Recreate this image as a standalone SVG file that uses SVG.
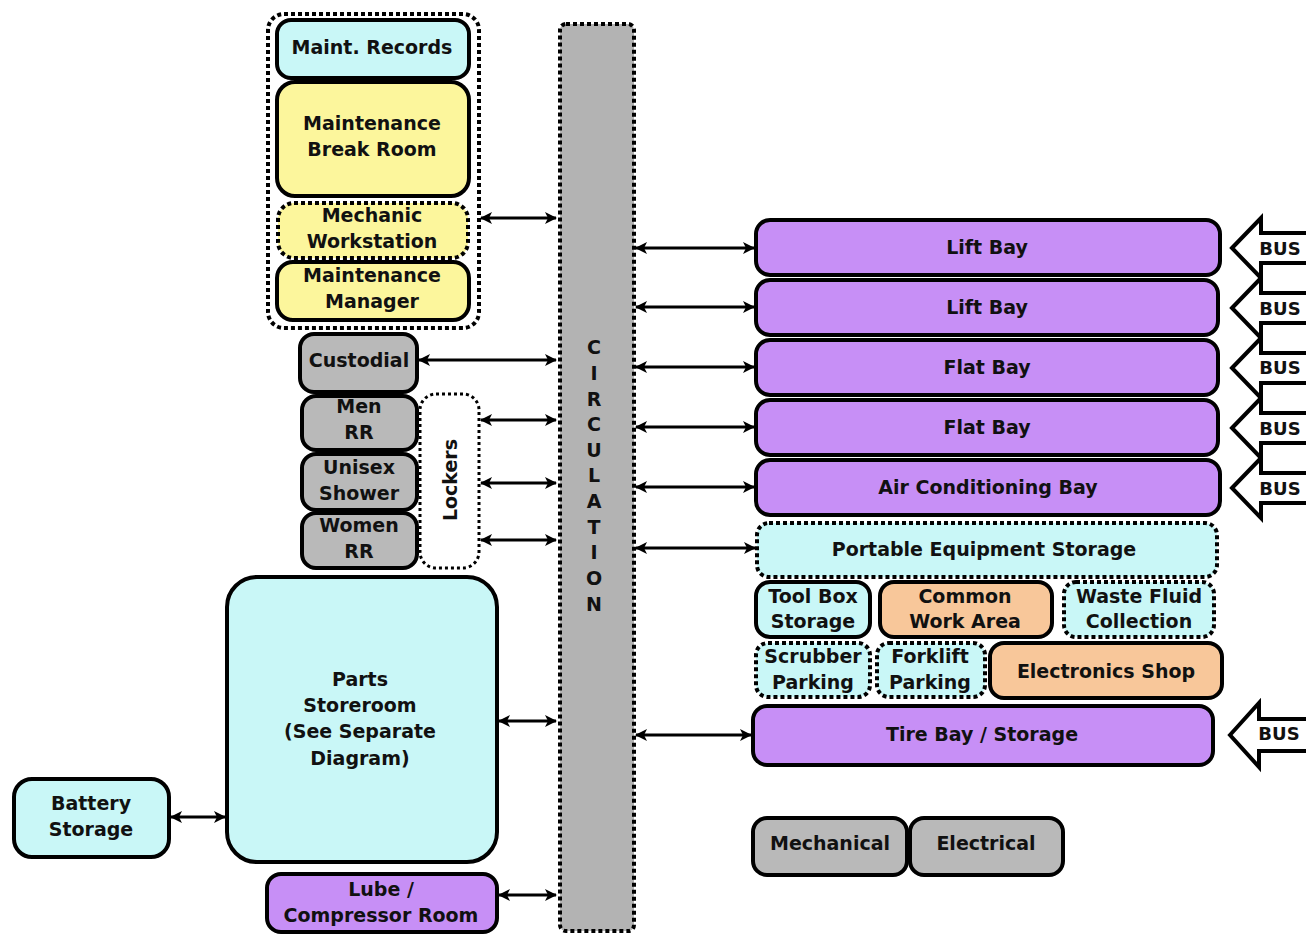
<svg xmlns="http://www.w3.org/2000/svg" width="1306" height="935" viewBox="0 0 1306 935">
<defs>
<marker id="ah" viewBox="0 0 12 12" refX="11" refY="6" markerWidth="12" markerHeight="12" markerUnits="userSpaceOnUse" orient="auto-start-reverse">
<path d="M0,0 L12,6 L0,12 L3,6 Z" fill="#000"/>
</marker>
</defs>
<style>
text{font-family:"DejaVu Sans","Liberation Sans",Arial,sans-serif;font-weight:bold;font-size:19px;fill:#111;text-anchor:middle;dominant-baseline:central}
.box{stroke:#000;stroke-width:4}
.dot{stroke:#000;stroke-width:4;stroke-dasharray:4 3}
.cyan{fill:#c9f7f7}
.yel{fill:#fcf69c}
.gray{fill:#b9b9b9}
.pur{fill:#c78ff6}
.ora{fill:#f8c79a}
.con line{stroke:#000;stroke-width:3;marker-start:url(#ah);marker-end:url(#ah)}
.bus path{fill:#fff;stroke:#000;stroke-width:4;stroke-linejoin:miter}
.bus text{font-size:18px}
</style>
<rect width="1306" height="935" fill="#fff"/>

<g id="circulation">
<rect x="560" y="24" width="74" height="907" rx="6" fill="#b3b3b3" class="dot"/>
<text x="594" y="347">C</text><text x="594" y="373">I</text><text x="594" y="399">R</text><text x="594" y="424">C</text><text x="594" y="450">U</text><text x="594" y="475">L</text><text x="594" y="501">A</text><text x="594" y="527">T</text><text x="594" y="552">I</text><text x="594" y="578">O</text><text x="594" y="604">N</text>
</g>

<g id="maint-group"><rect x="268" y="14" width="211" height="314" rx="16" fill="none" class="dot"/></g>
<g id="maint-records"><rect x="277" y="20" width="192" height="58" rx="14" class="box cyan"/><text x="372" y="47">Maint. Records</text></g>
<g id="break-room"><rect x="277" y="82" width="192" height="114" rx="18" class="box yel"/><text x="372" y="123">Maintenance</text><text x="372" y="149">Break Room</text></g>
<g id="mechanic-ws"><rect x="278" y="203" width="190" height="55" rx="16" class="dot yel"/><text x="372" y="215">Mechanic</text><text x="372" y="241">Workstation</text></g>
<g id="maint-manager"><rect x="277" y="262" width="192" height="58" rx="16" class="box yel"/><text x="372" y="275">Maintenance</text><text x="372" y="301">Manager</text></g>

<g id="custodial"><rect x="300" y="334" width="117" height="58" rx="14" class="box gray"/><text x="359" y="360">Custodial</text></g>
<g id="men-rr"><rect x="302" y="396" width="115" height="54" rx="14" class="box gray"/><text x="359" y="406">Men</text><text x="359" y="432">RR</text></g>
<g id="unisex-shower"><rect x="302" y="454" width="115" height="56" rx="14" class="box gray"/><text x="359" y="467">Unisex</text><text x="359" y="493">Shower</text></g>
<g id="women-rr"><rect x="302" y="513" width="115" height="55" rx="14" class="box gray"/><text x="359" y="525">Women</text><text x="359" y="551">RR</text></g>
<g id="lockers"><rect x="420" y="394" width="59" height="174" rx="16" fill="#fff" stroke="#000" stroke-width="3" stroke-dasharray="3 3"/><text x="450" y="480" transform="rotate(-90 450 480)">Lockers</text></g>

<g id="parts-storeroom"><rect x="227" y="577" width="270" height="285" rx="30" class="box cyan"/><text x="360" y="679">Parts</text><text x="360" y="705">Storeroom</text><text x="360" y="731">(See Separate</text><text x="360" y="758">Diagram)</text></g>
<g id="battery-storage"><rect x="14" y="779" width="155" height="78" rx="18" class="box cyan"/><text x="91" y="803">Battery</text><text x="91" y="829">Storage</text></g>
<g id="lube-room"><rect x="267" y="874" width="230" height="58" rx="14" class="box pur"/><text x="381" y="889">Lube /</text><text x="381" y="915">Compressor Room</text></g>

<g id="lift-bay-1"><rect x="756" y="220" width="464" height="55" rx="14" class="box pur"/><text x="987" y="247">Lift Bay</text></g>
<g id="lift-bay-2"><rect x="756" y="280" width="462" height="55" rx="14" class="box pur"/><text x="987" y="307">Lift Bay</text></g>
<g id="flat-bay-1"><rect x="756" y="340" width="462" height="55" rx="14" class="box pur"/><text x="987" y="367">Flat Bay</text></g>
<g id="flat-bay-2"><rect x="756" y="400" width="462" height="55" rx="14" class="box pur"/><text x="987" y="427">Flat Bay</text></g>
<g id="ac-bay"><rect x="756" y="460" width="464" height="55" rx="14" class="box pur"/><text x="988" y="487">Air Conditioning Bay</text></g>
<g id="portable-equip"><rect x="757" y="523" width="460" height="54" rx="12" class="dot cyan"/><text x="984" y="549">Portable Equipment Storage</text></g>
<g id="tool-box"><rect x="756" y="582" width="114" height="55" rx="14" class="box cyan"/><text x="813" y="596">Tool Box</text><text x="813" y="621">Storage</text></g>
<g id="common-work"><rect x="880" y="582" width="172" height="55" rx="14" class="box ora"/><text x="965" y="596">Common</text><text x="965" y="621">Work Area</text></g>
<g id="waste-fluid"><rect x="1064" y="582" width="150" height="55" rx="12" class="dot cyan"/><text x="1139" y="596">Waste Fluid</text><text x="1139" y="621">Collection</text></g>
<g id="scrubber"><rect x="756" y="643" width="114" height="54" rx="12" class="dot cyan"/><text x="813" y="656">Scrubber</text><text x="813" y="682">Parking</text></g>
<g id="forklift"><rect x="877" y="643" width="108" height="54" rx="12" class="dot cyan"/><text x="930" y="656">Forklift</text><text x="930" y="682">Parking</text></g>
<g id="electronics"><rect x="990" y="643" width="232" height="55" rx="14" class="box ora"/><text x="1106" y="671">Electronics Shop</text></g>
<g id="tire-bay"><rect x="753" y="706" width="460" height="59" rx="14" class="box pur"/><text x="982" y="734">Tire Bay / Storage</text></g>
<g id="mechanical"><rect x="753" y="818" width="154" height="57" rx="14" class="box gray"/><text x="830" y="843">Mechanical</text></g>
<g id="electrical"><rect x="910" y="818" width="153" height="57" rx="14" class="box gray"/><text x="986" y="843">Electrical</text></g>

<g id="bus-arrows" class="bus">
<g><path d="M1232,248 L1261,218 L1261,233 L1310,233 L1310,263 L1261,263 L1261,278 Z"/><text x="1280" y="248">BUS</text></g>
<g><path d="M1232,308 L1261,278 L1261,293 L1310,293 L1310,323 L1261,323 L1261,338 Z"/><text x="1280" y="308">BUS</text></g>
<g><path d="M1232,368 L1261,338 L1261,353 L1310,353 L1310,383 L1261,383 L1261,398 Z"/><text x="1280" y="367">BUS</text></g>
<g><path d="M1232,428 L1261,398 L1261,413 L1310,413 L1310,443 L1261,443 L1261,458 Z"/><text x="1280" y="428">BUS</text></g>
<g><path d="M1232,488 L1261,458 L1261,473 L1310,473 L1310,503 L1261,503 L1261,518 Z"/><text x="1280" y="488">BUS</text></g>
<g><path d="M1230,735 L1259,703 L1259,719 L1310,719 L1310,751 L1259,751 L1259,767 Z"/><text x="1279" y="733">BUS</text></g>
</g>

<g id="connectors" class="con">
<line x1="481" y1="218" x2="556" y2="218"/>
<line x1="419" y1="360" x2="556" y2="360"/>
<line x1="481" y1="420" x2="556" y2="420"/>
<line x1="481" y1="483" x2="556" y2="483"/>
<line x1="481" y1="540" x2="556" y2="540"/>
<line x1="499" y1="721" x2="556" y2="721"/>
<line x1="499" y1="895" x2="556" y2="895"/>
<line x1="171" y1="817" x2="225" y2="817"/>
<line x1="636" y1="248" x2="754" y2="248"/>
<line x1="636" y1="307" x2="754" y2="307"/>
<line x1="636" y1="367" x2="754" y2="367"/>
<line x1="636" y1="427" x2="754" y2="427"/>
<line x1="636" y1="487" x2="754" y2="487"/>
<line x1="636" y1="548" x2="755" y2="548"/>
<line x1="636" y1="735" x2="751" y2="735"/>
</g>
</svg>
